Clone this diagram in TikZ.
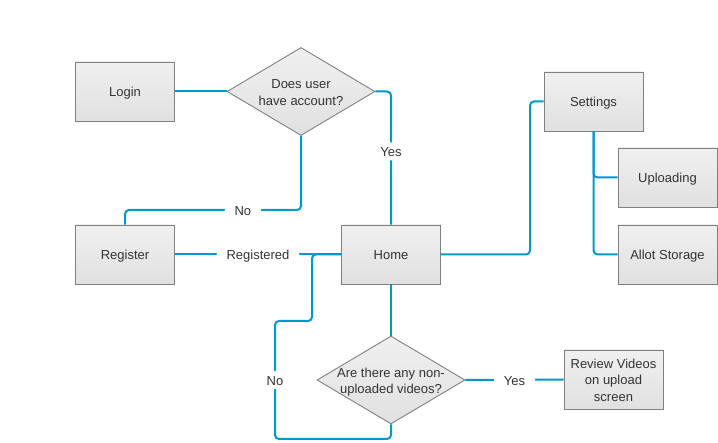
\documentclass[tikz,border=0pt]{standalone}
\usepackage{fontspec}
\setmainfont{Liberation Sans}
\usetikzlibrary{shapes.geometric}
\definecolor{linec}{RGB}{0,153,204}
\definecolor{txtc}{RGB}{51,51,51}
\definecolor{bordc}{RGB}{128,128,128}
\newcommand\txtblock[1]{\raisebox{-5pt}[0pt][0pt]{\begin{tabular}{@{}c@{}}#1\end{tabular}}}
\tikzset{
  every node/.style={text=txtc, font=\fontsize{13}{16.5}\selectfont},
  box/.style={rectangle, draw=bordc, line width=0.9pt, top color=white!94!black, bottom color=white!88!black, minimum width=99pt, minimum height=59pt, inner sep=0pt},
  dec/.style={diamond, draw=bordc, line width=0.9pt, top color=white!94!black, bottom color=white!88!black, minimum width=148pt, minimum height=88pt, inner sep=0pt, aspect=1.66},
  conn/.style={draw=linec, line width=2pt, rounded corners=4pt},
  lbl/.style={fill=white, inner xsep=10pt, inner ysep=4pt}
}
\begin{document}
\begin{tikzpicture}[x=1pt,y=-1pt]
\useasboundingbox (0,0) rectangle (718,443);
\node[box] (login) at (125,91.5) {\txtblock{Login}};
\node[dec] (q1) at (301,91.5) {\txtblock{Does user\\have account?}};
\node[box] (register) at (125,254.5) {\txtblock{Register}};
\node[box] (home) at (391,254.5) {\txtblock{Home}};
\node[box] (settings) at (593.5,101.5) {\txtblock{Settings}};
\node[box] (uploading) at (667.5,177.5) {\txtblock{Uploading}};
\node[box] (allot) at (667.5,254.5) {\txtblock{Allot Storage}};
\node[dec] (q2) at (391,380) {\txtblock{Are there any non-\\uploaded videos?}};
\node[box] (review) at (613.5,379.5) {\txtblock{Review Videos\\on upload\\screen}};
\coordinate (yesc) at (391,91.5);
\coordinate (noA) at (301,210);
\coordinate (noB) at (125,210);
\coordinate (hsA) at (530,254.5);
\coordinate (hsB) at (530,101.5);
\coordinate (sU) at (593.5,177.5);
\coordinate (sA) at (593.5,254.5);
\coordinate (n2A) at (391,439);
\coordinate (n2B) at (275,439);
\coordinate (n2C) at (275,321);
\coordinate (n2D) at (312,321);
\coordinate (n2E) at (312,254.5);
\draw[conn] (login.east) -- (q1.west);
\draw[conn] (q1.east) -- (yesc) -- node[lbl, pos=0.45, inner ysep=9pt] (yes1) {\txtblock{Yes}} (home.north);
\draw[conn] (q1.south) -- (noA) -- node[lbl, pos=0.33] (no1) {\txtblock{No}} (noB) -- (register.north);
\draw[conn] (register.east) -- node[lbl, pos=0.5] (reg) {\txtblock{Registered}} (home.west);
\draw[conn] (home.east) -- (hsA) -- (hsB) -- (settings.west);
\draw[conn] (settings.south) -- (sU) -- (uploading.west);
\draw[conn] (settings.south) -- (sA) -- (allot.west);
\draw[conn] (home.south) -- (q2.north);
\draw[conn] (q2.east) -- node[lbl, pos=0.5] (yes2) {\txtblock{Yes}} (review.west);
\draw[conn] (q2.south) -- (n2A) -- (n2B) -- node[lbl, pos=0.5, inner ysep=9pt, inner xsep=4pt] (no2) {\txtblock{No}} (n2C) -- (n2D) -- (n2E) -- (home.west);
\end{tikzpicture}
\end{document}
